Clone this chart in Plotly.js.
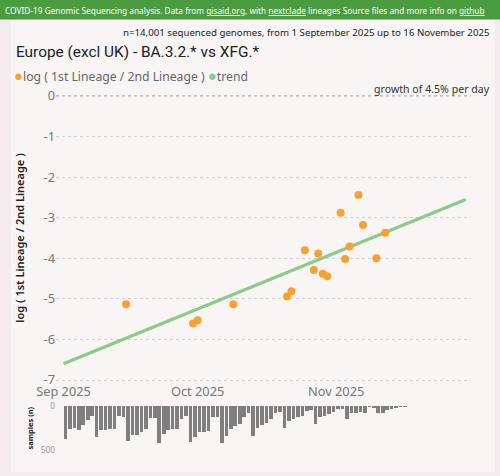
<!DOCTYPE html>
<html>
<head>
<meta charset="utf-8">
<script src="https://cdn.plot.ly/plotly-3.0.1.min.js"></script>
<style>
  html, body { margin: 0; padding: 0; background: #f3ebed; }
  #chart { width: 500px; height: 476px; }
</style>
</head>
<body>
<div id="chart"></div>
<script>
// ---------- data ----------
const pointDates = ['2025-09-15','2025-09-30','2025-10-01','2025-10-09','2025-10-21','2025-10-22',
  '2025-10-25','2025-10-27','2025-10-28','2025-10-29','2025-10-30','2025-11-02','2025-11-03',
  '2025-11-04','2025-11-06','2025-11-07','2025-11-10','2025-11-12'];
const logRatio = [-5.13,-5.61,-5.53,-5.13,-4.94,-4.81,-3.80,-4.29,-3.88,-4.38,-4.44,-2.88,-4.02,
  -3.71,-2.44,-3.18,-4.00,-3.37];

const trendDates = ['2025-09-01','2025-11-30'];
const trendValues = [-6.60, -2.55];

const sampleDates = [
  '2025-09-01','2025-09-02','2025-09-03','2025-09-04','2025-09-05','2025-09-06','2025-09-07',
  '2025-09-08','2025-09-09','2025-09-10','2025-09-11','2025-09-12','2025-09-13','2025-09-14',
  '2025-09-15','2025-09-16','2025-09-17','2025-09-18','2025-09-19','2025-09-20','2025-09-21',
  '2025-09-22','2025-09-23','2025-09-24','2025-09-25','2025-09-26','2025-09-27','2025-09-28',
  '2025-09-29','2025-09-30',
  '2025-10-01','2025-10-02','2025-10-03','2025-10-04','2025-10-05',
  '2025-10-06','2025-10-07','2025-10-08','2025-10-09','2025-10-10','2025-10-11','2025-10-12',
  '2025-10-13','2025-10-14','2025-10-15','2025-10-16','2025-10-17','2025-10-18','2025-10-19',
  '2025-10-20','2025-10-21','2025-10-22','2025-10-23','2025-10-24','2025-10-25','2025-10-26',
  '2025-10-27','2025-10-28','2025-10-29','2025-10-30','2025-10-31',
  '2025-11-01','2025-11-02',
  '2025-11-03','2025-11-04','2025-11-05','2025-11-06','2025-11-07','2025-11-08','2025-11-09',
  '2025-11-10','2025-11-11','2025-11-12','2025-11-13','2025-11-14','2025-11-15','2025-11-16'];
const sampleCounts = [
  379,258,246,273,216,159,114,
  348,277,273,258,265,114,129,
  402,330,330,292,258,140,140,
  424,318,273,265,258,152,114,
  413,350,
  300,292,280,121,129,
  424,341,265,227,205,121,83,
  341,254,216,190,152,83,64,
  254,167,152,129,114,53,45,
  205,129,110,91,64,
  38,30,
  152,83,76,64,76,15,27,
  76,76,45,38,27,15,8];

const xTickVals = ['2025-09-01','2025-10-01','2025-11-01'];
const xTickText = ['Sep 2025','Oct 2025','Nov 2025'];
const yTickVals = [0,-1,-2,-3,-4,-5,-6,-7];
const yTickText = ['0','-1','-2','-3','-4','-5','-6','-7'];
const y2TickVals = [0,500];
const y2TickText = ['0','500'];

// ---------- layout helpers (pixel -> paper) ----------
const W = 500, H = 476;
const fx = p => p / W;
const fy = p => 1 - p / H;
const FONT = 'Noto Sans, Open Sans, sans-serif';

const traces = [
  {
    type: 'bar', x: sampleDates, y: sampleCounts, xaxis: 'x2', yaxis: 'y2',
    marker: { color: '#7f7f7f' }, width: 0.8 * 86400000, offset: 0.02 * 86400000,
    showlegend: false, hoverinfo: 'x+y'
  },
  {
    type: 'scatter', mode: 'lines', x: trendDates, y: trendValues, name: 'trend',
    line: { color: '#8acb8c', width: 3.2 }, showlegend: false
  },
  {
    type: 'scatter', mode: 'markers', x: pointDates, y: logRatio,
    name: 'log ( 1st Lineage / 2nd Lineage )',
    marker: { color: '#f6a233', size: 8 }, showlegend: false
  }
];

const xRange = ['2025-08-30 07:40', '2025-12-01 04:00'];

const layout = {
  width: W, height: H,
  margin: { l: 0, r: 0, t: 0, b: 0 },
  paper_bgcolor: '#f3ebed',
  plot_bgcolor: 'rgba(0,0,0,0)',
  font: { family: FONT, color: '#777' },
  showlegend: false,
  bargap: 0,
  xaxis: {
    domain: [fx(56), fx(471)], range: xRange, type: 'date',
    tickvals: xTickVals, ticktext: xTickText, showgrid: false, zeroline: false,
    showline: false, ticks: '', tickfont: { size: 12.8, color: '#777', family: FONT },
    ticklabelstandoff: 0, anchor: 'y'
  },
  yaxis: {
    domain: [fy(382.03), fy(93.97)], range: [-7.05, 0.05],
    tickvals: yTickVals, ticktext: yTickText, showgrid: true, gridcolor: '#d4d0d0',
    griddash: 'dot', gridwidth: 1, zeroline: false, showline: false, ticks: '',
    tickfont: { size: 12.8, color: '#777', family: FONT },
    title: { text: 'log ( 1st Lineage / 2nd Lineage )', standoff: 16,
      font: { size: 11, color: '#222', family: FONT, weight: 600 } },
    anchor: 'x'
  },
  xaxis2: {
    domain: [fx(56), fx(471)], matches: 'x', type: 'date', showticklabels: false,
    showgrid: false, zeroline: false, showline: false, ticks: '', anchor: 'y2'
  },
  yaxis2: {
    domain: [fy(450.88), fy(405.56)], range: [510, -5],
    tickvals: y2TickVals, ticktext: y2TickText, showgrid: true, gridcolor: '#d8d4d4',
    griddash: 'dot', zeroline: false, showline: false, ticks: '',
    tickfont: { size: 8.3, color: '#999', family: FONT },
    title: { text: 'samples (n)', standoff: 6,
      font: { size: 7.5, color: '#222', family: FONT, weight: 700 } },
    anchor: 'x2'
  },
  shapes: [
    { type: 'rect', xref: 'paper', yref: 'paper', x0: fx(11), x1: fx(495), y0: fy(472), y1: fy(20),
      fillcolor: '#f8f5f4', line: { width: 0 }, layer: 'below' },
    { type: 'rect', xref: 'paper', yref: 'paper', x0: 0, x1: 1, y0: fy(19.5), y1: 1,
      fillcolor: '#4b9b41', line: { width: 0 }, layer: 'below' },
    { type: 'line', xref: 'x domain', yref: 'y', x0: 0, x1: 1, y0: 0, y1: 0,
      line: { color: '#8a8a8a', width: 1.2, dash: 'dot' }, layer: 'below' }
  ],
  annotations: [
    { xref: 'paper', yref: 'paper', x: fx(3), y: fy(10), xanchor: 'left', yanchor: 'middle',
      showarrow: false, align: 'left',
      text: 'COVID-19 Genomic Sequencing analysis. Data from <u>gisaid.org</u>, with <u>nextclade</u> lineages Source files and more info on <u>github</u>',
      font: { size: 8.3, color: '#ffffff', family: FONT } },
    { xref: 'paper', yref: 'paper', x: fx(492), y: fy(33), xanchor: 'right', yanchor: 'middle',
      showarrow: false,
      text: 'n=14,001 sequenced genomes, from 1 September 2025 up to 16 November 2025',
      font: { size: 9.7, color: '#222', family: FONT } },
    { xref: 'paper', yref: 'paper', x: fx(14), y: fy(52), xanchor: 'left', yanchor: 'middle',
      showarrow: false, text: 'Europe (excl UK) - BA.3.2.* vs XFG.*',
      font: { size: 15.4, color: '#222', family: 'Roboto, ' + FONT } },
    { xref: 'paper', yref: 'paper', x: fx(12), y: fy(75), xanchor: 'left', yanchor: 'middle',
      showarrow: false,
      text: '<span style="color:#f6a233;font-size:15px">●</span>log ( 1st Lineage / 2nd Lineage ) <span style="color:#8acb8c;font-size:15px">●</span>trend',
      font: { size: 12.2, color: '#666', family: FONT } },
    { xref: 'paper', yref: 'paper', x: fx(492), y: fy(89), xanchor: 'right', yanchor: 'middle',
      showarrow: false, text: 'growth of 4.5% per day',
      font: { size: 10.6, color: '#333', family: FONT } }
  ]
};

Plotly.newPlot('chart', traces, layout, { displayModeBar: false, staticPlot: true });
</script>
</body>
</html>
